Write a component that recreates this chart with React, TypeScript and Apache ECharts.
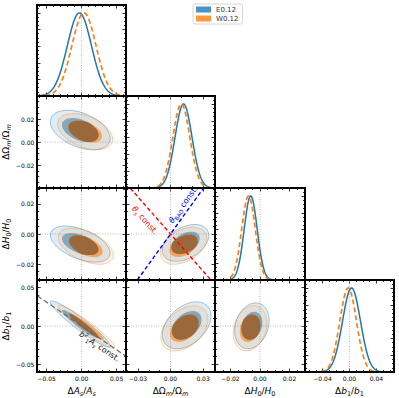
import React, { useEffect, useRef } from 'react';
import * as echarts from 'echarts';

const SERIES_NAMES = ['E0.12', 'W0.12'];
const SERIES_COLORS = ['#1f77b4', '#ff7f0e'];
const SERIES_RGB = [[31, 119, 180], [255, 127, 14]];

// parameter order: A_s, Omega_m, H_0, b_1
const X_HALF_RANGE = [0.0635, 0.041, 0.0305, 0.066];
const Y_HALF_RANGE = [0, 0.04, 0.0305, 0.06];
const PDF_MAX = 1.095;

const X_MAJOR_TICKS = [[-0.05, 0, 0.05], [-0.03, 0, 0.03], [-0.02, 0, 0.02], [-0.04, 0, 0.04]];
const X_MINOR_STEP = [0.01, 0.01, 0.005, 0.01];
const Y_MAJOR_TICKS = [[], [-0.02, 0, 0.02], [-0.02, 0, 0.02], [-0.05, 0, 0.05]];
const Y_MINOR_STEP = [0, 0.005, 0.005, 0.01];
const PDF_MAJOR_TICKS = [0, 0.2, 0.4, 0.6, 0.8, 1.0];
const PDF_MINOR_STEP = 0.05;

const X_NAMES = [
  '{n|Δ}{i|A}{s|s}{n|/}{i|A}{s|s}',
  '{n|ΔΩ}{s|m}{n|/Ω}{s|m}',
  '{n|Δ}{i|H}{u|0}{n|/}{i|H}{u|0}',
  '{n|Δ}{i|b}{u|1}{n|/}{i|b}{u|1}',
];
const Y_NAMES = ['', X_NAMES[1], X_NAMES[2], X_NAMES[3]];

// 1D marginals: mean, sigma
const MEAN_1D_E = [-0.003, 0.012, -0.0063, 0.003];
const SIGMA_1D_E = [0.0172, 0.0078, 0.0044, 0.0133];
const MEAN_1D_W = [0.0035, 0.010, -0.0078, -0.002];
const SIGMA_1D_W = [0.0172, 0.0078, 0.0046, 0.0123];

// 2D panels [row, col]
const PANELS_2D = [[1, 0], [2, 0], [3, 0], [2, 1], [3, 1], [3, 2]];
// [cx, cy, sx, sy, rho]
const ELLIPSE_E = [
  [-0.002, 0.0104, 0.0172, 0.0069, -0.42],
  [-0.002, -0.0067, 0.0172, 0.0048, -0.5],
  [-0.002, 0.0026, 0.0172, 0.0121, -0.95],
  [0.0138, -0.0059, 0.0086, 0.0049, 0.4],
  [0.0149, 0.0009, 0.009, 0.0123, 0.4],
  [-0.0055, 0.0003, 0.0047, 0.012, 0.22],
];
const ELLIPSE_W = [
  [0.005, 0.009, 0.0158, 0.0063, -0.42],
  [0.006, -0.0081, 0.0158, 0.0048, -0.5],
  [0.007, -0.001, 0.0163, 0.0113, -0.95],
  [0.012, -0.0078, 0.0086, 0.0049, 0.4],
  [0.0128, -0.003, 0.0087, 0.0118, 0.4],
  [-0.0067, -0.003, 0.0046, 0.0118, 0.22],
];
const CONTOUR_RADII = [1.52, 2.49];

// annotation lines through the origin (slopes) and their labels
const THETA_S_SLOPE = -0.82;
const THETA_BAO_SLOPE = 1.0;
const B1AS_SLOPE = -0.62;
const THETA_S_LABEL_POS = [-0.0236, 0.0091];
const THETA_BAO_LABEL_POS = [0.0119, 0.0195];
const B1AS_LABEL_POS = [0.0254, -0.0268];

const FONT = 'DejaVu Sans';
const COL_EDGES = [37, 126, 215, 305, 394];
const ROW_EDGES = [5, 96, 188, 280, 372];
const BROWN = '#9a683b';

function fmt(v: number) {
  const s = Math.abs(v).toFixed(2);
  return v < -1e-9 ? '\u2212' + s : s;
}

function minorTicks(lo: number, hi: number, step: number, majors: number[]) {
  const out: number[] = [];
  if (!step) return out;
  const n0 = Math.ceil(lo / step - 1e-9);
  const n1 = Math.floor(hi / step + 1e-9);
  for (let k = n0; k <= n1; k++) {
    const v = +(k * step).toFixed(6);
    if (!majors.some((m) => Math.abs(m - v) < 1e-9)) out.push(v);
  }
  return out;
}

const NAME_RICH: any = {
  n: { fontSize: 9, fontFamily: FONT, color: '#000', lineHeight: 13 },
  i: { fontSize: 9, fontFamily: FONT, fontStyle: 'italic', color: '#000', lineHeight: 13 },
  s: { fontSize: 6.5, fontFamily: FONT, fontStyle: 'italic', color: '#000', verticalAlign: 'bottom', lineHeight: 6 },
  u: { fontSize: 6.5, fontFamily: FONT, color: '#000', verticalAlign: 'bottom', lineHeight: 6 },
};

function buildAxes(kind: 'x' | 'y', grid: number, min: number, max: number, major: number[], minor: number[], showLabels: boolean, name: string) {
  const horiz = kind === 'x';
  const mk = (position: string, ticks: number[], len: number, lab: boolean, nm: string) => ({
    type: 'value',
    gridIndex: grid,
    position,
    offset: 0,
    min,
    max,
    silent: true,
    axisLine: { show: false, onZero: false },
    splitLine: { show: false },
    minorTick: { show: false },
    axisTick: { show: ticks.length > 0, inside: true, length: len, customValues: ticks, lineStyle: { color: '#000', width: 0.8 } },
    axisLabel: lab
      ? { show: true, customValues: ticks, formatter: fmt, fontSize: 6, fontFamily: FONT, color: '#000', margin: 3 }
      : { show: false },
    name: nm,
    nameLocation: 'middle',
    nameGap: horiz ? 12 : 18,
    nameRotate: horiz ? 0 : 90,
    nameTextStyle: { rich: NAME_RICH, fontSize: 9, color: '#000', fontFamily: FONT },
  });
  const a = horiz ? 'bottom' : 'left';
  const b = horiz ? 'top' : 'right';
  return [mk(a, major, 3.5, showLabels, name), mk(a, minor, 2, false, ''), mk(b, major, 3.5, false, ''), mk(b, minor, 2, false, '')];
}

function rgba(rgb: number[], a: number) {
  return `rgba(${rgb[0]},${rgb[1]},${rgb[2]},${a})`;
}

function ellipsePts(api: any, e: number[], rad: number) {
  const [cx, cy, sx, sy, rho] = e;
  const q = Math.sqrt(1 - rho * rho);
  const pts: number[][] = [];
  const N = 90;
  for (let k = 0; k < N; k++) {
    const t = (2 * Math.PI * k) / N;
    const x = cx + rad * sx * Math.cos(t);
    const y = cy + rad * sy * (rho * Math.cos(t) + q * Math.sin(t));
    pts.push(api.coord([x, y]));
  }
  return pts;
}

function intersect(P: number[], Q: number[], A: number[], B: number[]) {
  const [x1, y1] = P, [x2, y2] = Q, [x3, y3] = A, [x4, y4] = B;
  const den = (x1 - x2) * (y3 - y4) - (y1 - y2) * (x3 - x4);
  const t = ((x1 - x3) * (y3 - y4) - (y1 - y3) * (x3 - x4)) / den;
  return [x1 + t * (x2 - x1), y1 + t * (y2 - y1)];
}

function clipPoly(subject: number[][], clip: number[][]) {
  let area = 0;
  for (let i = 0; i < clip.length; i++) {
    const j = (i + 1) % clip.length;
    area += clip[i][0] * clip[j][1] - clip[j][0] * clip[i][1];
  }
  const sgn = area > 0 ? 1 : -1;
  let output = subject;
  for (let i = 0; i < clip.length; i++) {
    const A = clip[i], B = clip[(i + 1) % clip.length];
    const inside = (P: number[]) => sgn * ((B[0] - A[0]) * (P[1] - A[1]) - (B[1] - A[1]) * (P[0] - A[0])) >= 0;
    const input = output;
    output = [];
    if (!input.length) break;
    for (let k = 0; k < input.length; k++) {
      const P = input[k], Q = input[(k + 1) % input.length];
      const pi = inside(P), qi = inside(Q);
      if (pi) {
        output.push(P);
        if (!qi) output.push(intersect(P, Q, A, B));
      } else if (qi) {
        output.push(intersect(P, Q, A, B));
      }
    }
  }
  return output;
}

const DOT_STYLE = { stroke: '#aaa', lineWidth: 0.8, lineDash: [1, 1.5], fill: null };

function buildOption() {
  const panels: number[][] = [[0, 0], [1, 1], [2, 2], [3, 3], ...PANELS_2D];
  const grids: any[] = [];
  const frames: any[] = [];
  const xAxes: any[] = [];
  const yAxes: any[] = [];
  panels.forEach(([r, c], g) => {
    const box = {
      left: COL_EDGES[c],
      top: ROW_EDGES[r],
      width: COL_EDGES[c + 1] - COL_EDGES[c],
      height: ROW_EDGES[r + 1] - ROW_EDGES[r],
    };
    grids.push({ ...box, show: false });
    frames.push({
      type: 'rect',
      silent: true,
      z: 100,
      shape: { x: box.left, y: box.top, width: box.width, height: box.height },
      style: { fill: 'none', stroke: '#000', lineWidth: 2 },
    });
    const xr = X_HALF_RANGE[c];
    xAxes.push(
      ...buildAxes('x', g, -xr, xr, X_MAJOR_TICKS[c], minorTicks(-xr, xr, X_MINOR_STEP[c], X_MAJOR_TICKS[c]), r === 3, r === 3 ? X_NAMES[c] : '')
    );
    if (r === c) {
      yAxes.push(...buildAxes('y', g, 0, PDF_MAX, PDF_MAJOR_TICKS, minorTicks(0, PDF_MAX, PDF_MINOR_STEP, PDF_MAJOR_TICKS), false, ''));
    } else {
      const yr = Y_HALF_RANGE[r];
      yAxes.push(
        ...buildAxes('y', g, -yr, yr, Y_MAJOR_TICKS[r], minorTicks(-yr, yr, Y_MINOR_STEP[r], Y_MAJOR_TICKS[r]), c === 0, c === 0 ? Y_NAMES[r] : '')
      );
    }
  });

  const series: any[] = [];
  SERIES_NAMES.forEach((nm, d) => {
    series.push({ type: 'scatter', name: nm, xAxisIndex: 0, yAxisIndex: 0, data: [], itemStyle: { color: SERIES_COLORS[d] } });
  });

  // diagonal 1D marginals
  for (let i = 0; i < 4; i++) {
    const xr = X_HALF_RANGE[i];
    const means = [MEAN_1D_E[i], MEAN_1D_W[i]];
    const sigmas = [SIGMA_1D_E[i], SIGMA_1D_W[i]];
    series.push({
      type: 'custom',
      name: 'marg' + i,
      coordinateSystem: 'cartesian2d',
      xAxisIndex: i * 4,
      yAxisIndex: i * 4,
      silent: true,
      data: [[means[0], 1]],
      renderItem: (_p: any, api: any) => {
        const ch: any[] = [];
        const a = api.coord([0, 0]), b = api.coord([0, PDF_MAX]);
        ch.push({ type: 'line', shape: { x1: a[0], y1: a[1], x2: b[0], y2: b[1] }, style: DOT_STYLE });
        for (let d = 0; d < 2; d++) {
          const pts: number[][] = [];
          const N = 200;
          for (let k = 0; k <= N; k++) {
            const x = -xr + (2 * xr * k) / N;
            const z = (x - means[d]) / sigmas[d];
            pts.push(api.coord([x, Math.exp(-0.5 * z * z)]));
          }
          ch.push({
            type: 'polyline',
            shape: { points: pts },
            style: { stroke: SERIES_COLORS[d], lineWidth: d ? 1.7 : 1.5, fill: null, lineDash: d ? [5, 3] : null },
          });
        }
        return { type: 'group', children: ch };
      },
    });
  }

  // 2D contours
  PANELS_2D.forEach(([r, c], p) => {
    const g = 4 + p;
    const xr = X_HALF_RANGE[c], yr = Y_HALF_RANGE[r];
    series.push({
      type: 'custom',
      name: 'cont' + p,
      coordinateSystem: 'cartesian2d',
      xAxisIndex: g * 4,
      yAxisIndex: g * 4,
      silent: true,
      data: [[ELLIPSE_E[p][0], ELLIPSE_E[p][1]]],
      renderItem: (_p: any, api: any) => {
        const ch: any[] = [];
        let a = api.coord([0, -yr]), b = api.coord([0, yr]);
        ch.push({ type: 'line', shape: { x1: a[0], y1: a[1], x2: b[0], y2: b[1] }, style: DOT_STYLE });
        a = api.coord([-xr, 0]);
        b = api.coord([xr, 0]);
        ch.push({ type: 'line', shape: { x1: a[0], y1: a[1], x2: b[0], y2: b[1] }, style: DOT_STYLE });
        const ells = [ELLIPSE_E[p], ELLIPSE_W[p]];
        const polys = ells.map((e) => CONTOUR_RADII.map((rad) => ellipsePts(api, e, rad)));
        const outerFill = [0.14, 0.11];
        const outerStroke = [0.5, 0.45];
        const innerFill = [0.55, 0.6];
        for (let d = 0; d < 2; d++) {
          ch.push({
            type: 'polygon',
            shape: { points: polys[d][1] },
            style: { fill: rgba(SERIES_RGB[d], outerFill[d]), stroke: rgba(SERIES_RGB[d], outerStroke[d]), lineWidth: 0.8 },
          });
          ch.push({ type: 'polygon', shape: { points: polys[d][0] }, style: { fill: rgba(SERIES_RGB[d], innerFill[d]) } });
        }
        const both = clipPoly(polys[0][0], polys[1][0]);
        if (both.length > 2) ch.push({ type: 'polygon', shape: { points: both }, style: { fill: BROWN } });
        return { type: 'group', children: ch };
      },
    });
  });

  // annotation lines
  const g21 = 4 + 3; // panel (2,1)
  const g30 = 4 + 2; // panel (3,0)
  const lineDefs = [
    { g: g21, slope: THETA_S_SLOPE, xr: X_HALF_RANGE[1], color: '#ff0000', dash: [4, 2.5], w: 1.4 },
    { g: g21, slope: THETA_BAO_SLOPE, xr: X_HALF_RANGE[1], color: '#0000ff', dash: [4, 2.5], w: 1.4 },
    { g: g30, slope: B1AS_SLOPE, xr: X_HALF_RANGE[0], color: '#666666', dash: [5, 3], w: 1.2 },
  ];
  lineDefs.forEach((L, k) => {
    series.push({
      type: 'line',
      name: 'ann' + k,
      xAxisIndex: L.g * 4,
      yAxisIndex: L.g * 4,
      silent: true,
      symbol: 'none',
      clip: true,
      z: 5,
      data: [[-L.xr, -L.xr * L.slope], [L.xr, L.xr * L.slope]],
      lineStyle: { color: L.color, width: L.w, type: L.dash },
    });
  });

  const textDefs = [
    { g: g21, pos: THETA_S_LABEL_POS, slope: THETA_S_SLOPE, color: '#ff0000', text: '{i|θ}{s|s}{n| const.}' },
    { g: g21, pos: THETA_BAO_LABEL_POS, slope: THETA_BAO_SLOPE, color: '#0000ff', text: '{i|θ}{u|BAO}{n| const.}' },
    { g: g30, pos: B1AS_LABEL_POS, slope: B1AS_SLOPE, color: '#222222', text: '{i|b}{p|2}{u|1}{i|A}{s|s}{n| const.}' },
  ];
  textDefs.forEach((T, k) => {
    const rich: any = {
      n: { fontSize: 8, fontFamily: FONT, fill: T.color, lineHeight: 11 },
      i: { fontSize: 8, fontFamily: FONT, fontStyle: 'italic', fill: T.color, lineHeight: 11 },
      s: { fontSize: 5.5, fontFamily: FONT, fontStyle: 'italic', fill: T.color, verticalAlign: 'bottom', lineHeight: 5 },
      u: { fontSize: 5.5, fontFamily: FONT, fill: T.color, verticalAlign: 'bottom', lineHeight: 5 },
      p: { fontSize: 5.5, fontFamily: FONT, fill: T.color, verticalAlign: 'top', lineHeight: 5 },
    };
    series.push({
      type: 'custom',
      name: 'txt' + k,
      coordinateSystem: 'cartesian2d',
      xAxisIndex: T.g * 4,
      yAxisIndex: T.g * 4,
      silent: true,
      z: 6,
      data: [T.pos],
      renderItem: (_p: any, api: any) => {
        const x = api.value(0), y = api.value(1);
        const p0 = api.coord([x, y]);
        const p1 = api.coord([x + 0.01, y + 0.01 * T.slope]);
        const rot = Math.atan2(-(p1[1] - p0[1]), p1[0] - p0[0]);
        return {
          type: 'text',
          x: p0[0],
          y: p0[1],
          rotation: rot,
          style: { text: T.text, rich, fill: T.color, fontSize: 8, fontFamily: FONT, align: 'center', verticalAlign: 'middle' },
        };
      },
    });
  });

  return {
    animation: false,
    backgroundColor: '#ffffff',
    textStyle: { fontFamily: FONT },
    legend: {
      left: 193,
      top: 4,
      orient: 'vertical',
      icon: 'rect',
      itemWidth: 15,
      itemHeight: 6,
      itemGap: 2,
      padding: [2, 4, 2, 3],
      borderColor: '#cccccc',
      borderWidth: 0.8,
      borderRadius: 2,
      selectedMode: false,
      textStyle: { fontSize: 7, fontFamily: FONT, color: '#333' },
      data: SERIES_NAMES.map((n, d) => ({ name: n, itemStyle: { color: SERIES_COLORS[d] } })),
    },
    graphic: frames,
    grid: grids,
    xAxis: xAxes,
    yAxis: yAxes,
    series,
  };
}

export default function App() {
  const ref = useRef<HTMLDivElement>(null);
  useEffect(() => {
    const chart = echarts.init(ref.current!, null, { renderer: 'svg' });
    chart.setOption(buildOption() as any);
    return () => chart.dispose();
  }, []);
  return <div ref={ref} style={{ position: 'absolute', left: 0, top: 0, width: 399, height: 398 }} />;
}
